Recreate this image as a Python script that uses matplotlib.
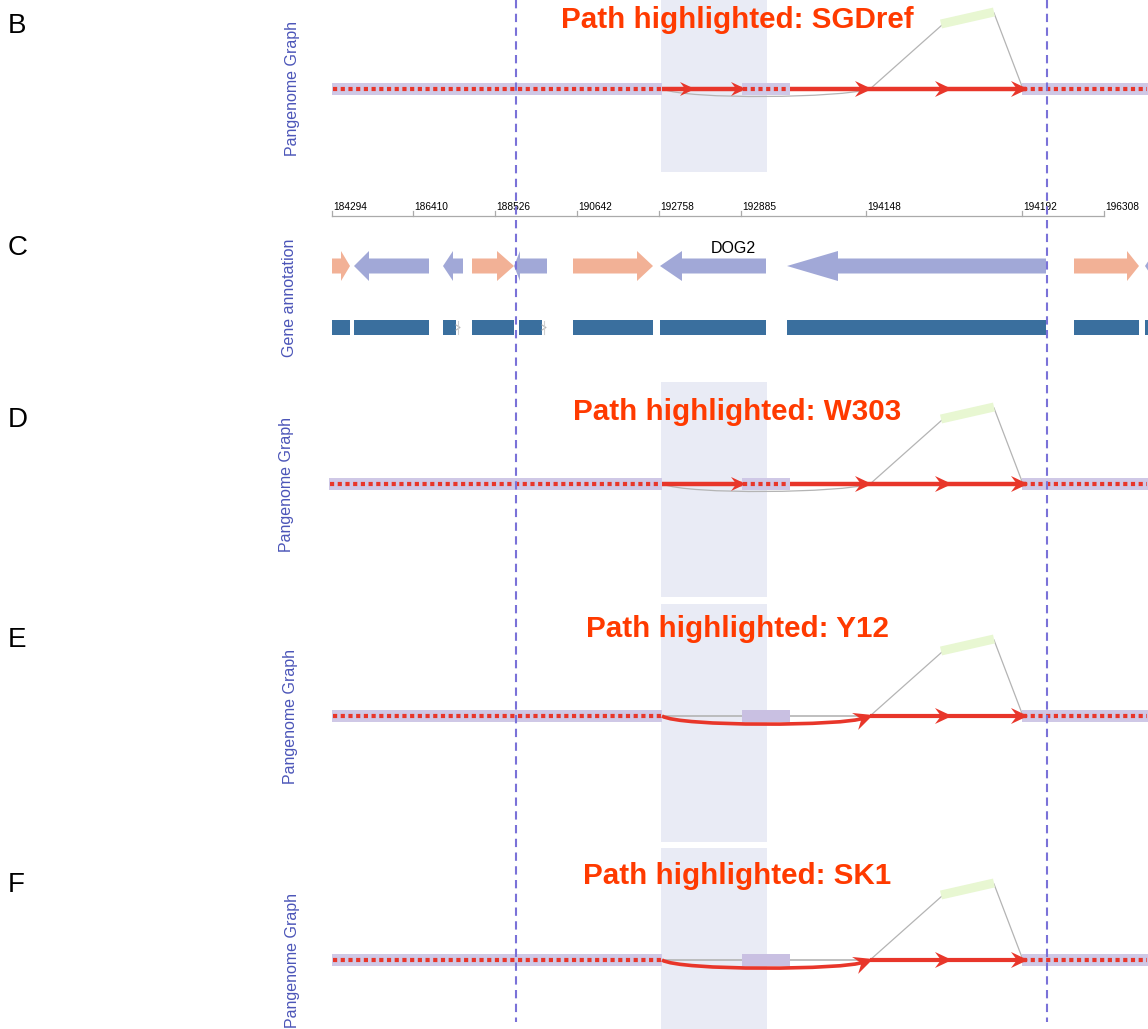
import numpy as np
import matplotlib
matplotlib.use('Agg')
import matplotlib.pyplot as plt
from matplotlib.patches import Polygon, Rectangle, PathPatch
from matplotlib.path import Path

plt.rcParams['font.family'] = ['Liberation Sans', 'DejaVu Sans']

# --- panels -------------------------------------------------------------
panel_letters = ['B', 'C', 'D', 'E', 'F']
letter_base = [33, 255, 427, 647, 892]

strains = ['SGDref', 'W303', 'Y12', 'SK1']
skips_node = [False, False, True, True]      # path bypasses the DOG2 node
graph_y = [89, 484, 716, 960]
title_base = [28, 420, 637, 884]
label_x = [292, 287, 291, 292]
left_node_start = [332, 329, 332, 332]
shade_span = [(0, 172), (382, 597), (604, 842), (848, 1029)]
extra_arrow = [[695], [], [], []]

# graph nodes (track units)
left_node_end = 662
dog2_node = (742, 790)
branch_x = 870
ins_node = (941, 994)
right_node = (1022, 1148)
shade_x = (661, 767)

# --- ruler ----------------------------------------------------------------
ruler_labels = ['184294', '186410', '188526', '190642', '192758',
                '192885', '194148', '194192', '196308']
ruler_x = [332, 413, 495, 577, 659, 741, 866, 1022, 1104]

# --- genes ----------------------------------------------------------------
gene_start = [332, 354, 443, 472, 514, 573, 660, 787, 1074, 1145]
gene_end = [350, 429, 463, 514, 547, 653, 766, 1046, 1139, 1160]
gene_strand = ['+', '-', '-', '+', '-', '+', '-', '-', '+', '-']
gene_head = [9, 15, 10, 17, 6, 16, 22, 51, 12, 10]
gene_name = ['', '', '', '', '', '', 'DOG2', '', '', '']
gene_name_x = 733

cds_start = [332, 354, 443, 472, 519, 573, 660, 787, 1074, 1145]
cds_end = [350, 429, 456, 514, 542, 653, 766, 1046, 1139, 1160]

guides_x = [516, 1047]

RED = '#e8362a'
TITLE_RED = '#ff3a00'
BAND = '#cfc8e6'
SHADE = '#e9ebf5'
GREY = '#b4b4b4'
GREEN = '#e8f7d2'
LABEL_BLUE = '#4b55b8'
GUIDE = '#7a72d8'
PLUS = '#f2b196'
MINUS = '#a1a8d7'
CDS = '#3a6f9e'

fig = plt.figure(figsize=(11.48, 10.29), dpi=100)
ax = fig.add_axes([0, 0, 1, 1])
ax.set_xlim(0, 1148)
ax.set_ylim(1029, 0)
ax.axis('off')


def arrowhead(x, y, dx=1.0, dy=0.0, L=17, Wd=16, z=6):
    u = np.array([dx, dy]) / np.hypot(dx, dy)
    n = np.array([-u[1], u[0]])
    tip = np.array([x, y])
    pts = [tip,
           tip - L * u + Wd / 2 * n,
           tip - 0.65 * L * u,
           tip - L * u - Wd / 2 * n]
    ax.add_patch(Polygon(pts, closed=True, fc=RED, ec='none', zorder=z))


def bezier(p0, p1, p2, p3, color, lw, z):
    path = Path([p0, p1, p2, p3], [Path.MOVETO, Path.CURVE4, Path.CURVE4, Path.CURVE4])
    ax.add_patch(PathPatch(path, fc='none', ec=color, lw=lw, zorder=z, capstyle='butt'))


def node(x0, x1, y, dotted=True):
    ax.add_patch(Rectangle((x0, y - 6), x1 - x0, 12, fc=BAND, ec='none', zorder=3))
    if dotted:
        ax.plot([x0 + 1, x1 - 1], [y, y], color=RED, lw=3.0,
                linestyle=(0, (1.0, 0.85)), solid_capstyle='butt', zorder=4)


# shaded DOG2 region behind each graph panel
for top, bottom in shade_span:
    ax.add_patch(Rectangle((shade_x[0], top), shade_x[1] - shade_x[0], bottom - top,
                           fc=SHADE, ec='none', zorder=0))

for i, strain in enumerate(strains):
    y = graph_y[i]
    skip = skips_node[i]

    # insertion node and its links
    ax.plot([ins_node[0], ins_node[1]], [y - 65, y - 77], color=GREEN, lw=6.5,
            solid_capstyle='butt', zorder=2)
    ax.plot([branch_x, ins_node[0] + 1], [y, y - 64], color=GREY, lw=0.9, zorder=1)
    ax.plot([ins_node[1], right_node[0] + 1], [y - 76, y], color=GREY, lw=0.9, zorder=1)

    node(left_node_start[i], left_node_end, y)
    node(right_node[0], right_node[1], y)

    if not skip:
        bezier((left_node_end, y), (690, y + 11), (840, y + 9), (branch_x, y), GREY, 0.9, 1)
        node(dog2_node[0], dog2_node[1], y)
        ax.plot([left_node_end, dog2_node[0]], [y, y], color=RED, lw=3.2,
                solid_capstyle='butt', zorder=5)
        ax.plot([dog2_node[1], right_node[0] + 4], [y, y], color=RED, lw=3.2,
                solid_capstyle='butt', zorder=5)
        for ax_x in extra_arrow[i] + [dog2_node[0] + 4]:
            arrowhead(ax_x, y, L=15, Wd=14)
        for ax_x in [branch_x + 2, 952, right_node[0] + 6]:
            arrowhead(ax_x, y)
    else:
        ax.plot([left_node_end, branch_x], [y, y], color=GREY, lw=1.2, zorder=1)
        ax.add_patch(Rectangle((dog2_node[0], y - 6), dog2_node[1] - dog2_node[0], 12,
                               fc='#c9c0e2', ec='none', zorder=3))
        bezier((left_node_end, y), (680, y + 11), (845, y + 10), (branch_x - 6, y + 2), RED, 2.6, 5)
        arrowhead(branch_x + 3, y - 1, 25, -9, L=19, Wd=18)
        ax.plot([branch_x, right_node[0] + 4], [y, y], color=RED, lw=3.0,
                solid_capstyle='butt', zorder=5)
        for ax_x in [952, right_node[0] + 6]:
            arrowhead(ax_x, y)

    ax.text(737, title_base[i], f'Path highlighted: {strain}', color=TITLE_RED,
            fontsize=21.3, fontweight='bold', ha='center', va='baseline', zorder=8)
    ax.text(label_x[i], y, 'Pangenome Graph', color=LABEL_BLUE, fontsize=11.5,
            rotation=90, ha='center', va='center')

# ruler
ax.plot([ruler_x[0], ruler_x[-1]], [215.5, 215.5], color='#aaaaaa', lw=0.9)
for x, lab in zip(ruler_x, ruler_labels):
    ax.plot([x, x], [211, 216], color='#aaaaaa', lw=0.9)
    ax.text(x + 1, 210, lab, fontsize=7.3, ha='left', va='baseline', color='black')

# gene arrows
gy, h_shaft, h_head = 266, 15, 30
for s, e, strand, hd, name in zip(gene_start, gene_end, gene_strand, gene_head, gene_name):
    if strand == '+':
        pts = [(s, gy - h_shaft / 2), (e - hd, gy - h_shaft / 2), (e - hd, gy - h_head / 2),
               (e, gy), (e - hd, gy + h_head / 2), (e - hd, gy + h_shaft / 2), (s, gy + h_shaft / 2)]
        col = PLUS
    else:
        pts = [(e, gy - h_shaft / 2), (s + hd, gy - h_shaft / 2), (s + hd, gy - h_head / 2),
               (s, gy), (s + hd, gy + h_head / 2), (s + hd, gy + h_shaft / 2), (e, gy + h_shaft / 2)]
        col = MINUS
    ax.add_patch(Polygon(pts, closed=True, fc=col, ec='none', zorder=2))
    if name:
        ax.text(gene_name_x, 253, name, fontsize=11.5, ha='center', va='baseline')

# coding segments
for s, e in zip(cds_start, cds_end):
    ax.add_patch(Rectangle((s, 320), e - s, 15, fc=CDS, ec='none', zorder=2))
for x in [458, 544]:
    ax.plot([x - 2, x + 2, x - 2], [325, 327.5, 330], color=GREY, lw=0.8, zorder=2)
    ax.plot([x, x], [321, 334], color='#d0d0d0', lw=0.8, zorder=2)

ax.text(290, 298, 'Gene annotation', color=LABEL_BLUE, fontsize=11.5,
        rotation=90, ha='center', va='center')

# guide lines through all panels
for x in guides_x:
    ax.plot([x, x], [0, 1022], color=GUIDE, lw=1.5, linestyle=(0, (4, 2.6)), zorder=9)

for lab, yb in zip(panel_letters, letter_base):
    ax.text(8, yb, lab, fontsize=20, ha='left', va='baseline', color='black')

fig.savefig('out.png', dpi=100)
